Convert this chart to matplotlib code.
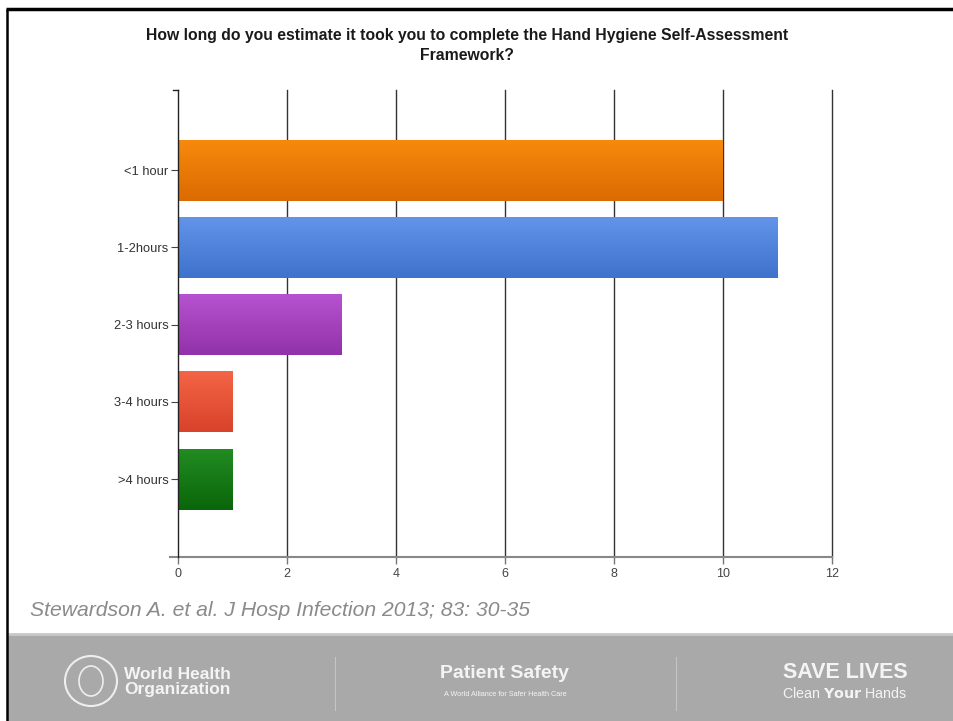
import matplotlib
matplotlib.use("Agg")
import matplotlib.pyplot as plt
import numpy as np
from matplotlib.colors import LinearSegmentedColormap
from matplotlib.patches import Rectangle, Ellipse
from matplotlib.lines import Line2D

categories = ["<1 hour", "1-2hours", "2-3 hours", "3-4 hours", ">4 hours"]
values = [10, 11, 3, 1, 1]
top_colors = ["#f68a0c", "#6394ea", "#b652cf", "#f46446", "#228b22"]
bottom_colors = ["#dc6a02", "#3f72cc", "#9232aa", "#d8432b", "#0a660a"]
xticks = [0, 2, 4, 6, 8, 10, 12]
title = "How long do you estimate it took you to complete the Hand Hygiene Self-Assessment\nFramework?"
citation = "Stewardson A. et al. J Hosp Infection 2013; 83: 30-35"

fig = plt.figure(figsize=(9.54, 7.21), dpi=100)
fig.patch.set_facecolor("white")

W, H = 954, 721
ax = fig.add_axes([178 / W, 1 - 557 / H, (832 - 178) / W, (557 - 90) / H])
ypos = np.arange(len(categories))
bar_h = 0.79
bars = ax.barh(ypos, values, height=bar_h, color=top_colors, edgecolor="none", zorder=3)
for b, c1, c2 in zip(bars, top_colors, bottom_colors):
    cmap = LinearSegmentedColormap.from_list("g", [c1, c2])
    x0, y0 = b.get_x(), b.get_y()
    w, h = b.get_width(), b.get_height()
    grad = np.linspace(0, 1, 64).reshape(-1, 1)
    im = ax.imshow(grad, cmap=cmap, aspect="auto", extent=(x0, x0 + w, y0 + h, y0),
                   origin="upper", zorder=3.5, interpolation="bilinear")
    im.set_clip_path(b)

ax.set_xlim(0, 12)
ax.set_ylim(5.01, -1.04)
ax.set_xticks(xticks)
ax.set_xticklabels([str(t) for t in xticks], fontsize=9, color="#444444", family="Liberation Sans")
ax.set_yticks(ypos)
ax.set_yticklabels(categories, fontsize=9.3, color="#333333", family="Liberation Sans")
ax.tick_params(axis="y", length=5, width=0.8, color="#444444", pad=2)
ax.tick_params(axis="x", length=5, width=1, color="#777777", pad=3)
for t in xticks[1:]:
    ax.axvline(t, color="#333333", lw=1.0, zorder=1, clip_on=False)
for s in ["top", "right", "bottom"]:
    ax.spines[s].set_visible(False)
ax.spines["left"].set_color("#222222")
ax.spines["left"].set_linewidth(1.0)
ax.spines["left"].set_zorder(5)
ax.add_line(Line2D([-0.012, 1.0], [0, 0], transform=ax.transAxes, color="#888888",
                   lw=1.5, clip_on=False, zorder=4))
ax.add_line(Line2D([-0.008, 0.0], [1, 1], transform=ax.transAxes, color="#222222",
                   lw=1.0, clip_on=False, zorder=4))
ax.set_facecolor("white")

fig.text(467 / W, 1 - 28 / H, title, ha="center", va="top", fontsize=11.3,
         fontweight="bold", family="Liberation Sans", color="#1a1a1a", linespacing=1.45)

fig.text(30 / W, 1 - 611 / H, citation, ha="left", va="center", fontsize=15.2,
         style="italic", family="Liberation Sans", color="#8a8a8a")

# footer band
fig.add_artist(Rectangle((8 / W, 0), 1, 1 - 634 / H, transform=fig.transFigure,
                         facecolor="#a9a9a9", edgecolor="none", zorder=1))
fig.add_artist(Line2D([8 / W, 1], [1 - 634 / H, 1 - 634 / H], transform=fig.transFigure,
                      color="#c8c8c8", lw=2, zorder=2))
for xs in [335, 676]:
    fig.add_artist(Line2D([xs / W, xs / W], [1 - 657 / H, 1 - 710 / H], transform=fig.transFigure,
                          color="#c4c4c4", lw=0.8, zorder=2))
cx, cy = 91 / W, 1 - 681 / H
fig.add_artist(Ellipse((cx, cy), 52 / W, 50 / H, transform=fig.transFigure,
                       facecolor="none", edgecolor="#eeeeee", lw=1.5, zorder=3))
fig.add_artist(Ellipse((cx, cy), 24 / W, 30 / H, transform=fig.transFigure,
                       facecolor="none", edgecolor="#eeeeee", lw=1.2, zorder=3))
fig.text(124 / W, 1 - 682 / H, "World Health\nOrganization", ha="left", va="center",
         fontsize=12.5, fontweight="bold", family="Liberation Sans", color="#f4f4f4",
         linespacing=0.95, zorder=3)
fig.text(505 / W, 1 - 673 / H, "Patient Safety", ha="center", va="center",
         fontsize=14, fontweight="bold", family="Liberation Sans", color="#f4f4f4", zorder=3)
fig.text(505 / W, 1 - 695 / H, "A World Alliance for Safer Health Care", ha="center", va="center",
         fontsize=5.2, family="Liberation Sans", color="#f4f4f4", zorder=3)
fig.text(845 / W, 1 - 672 / H, "SAVE LIVES", ha="center", va="center",
         fontsize=15.5, fontweight="bold", family="Liberation Sans", color="#f4f4f4", zorder=3)
fig.text(845 / W, 1 - 694 / H, "Clean $\\bf{Your}$ Hands", ha="center", va="center",
         fontsize=10.3, family="Liberation Sans", color="#f4f4f4", zorder=3)

# slide frame
fig.add_artist(Line2D([6 / W, 1], [1 - 9 / H, 1 - 9 / H], transform=fig.transFigure,
                      color="black", lw=2.5, zorder=10, solid_capstyle="butt"))
fig.add_artist(Line2D([7 / W, 7 / W], [0, 1 - 9 / H], transform=fig.transFigure,
                      color="black", lw=1.8, zorder=10, solid_capstyle="butt"))

fig.savefig("out.png", dpi=100, facecolor="white")
